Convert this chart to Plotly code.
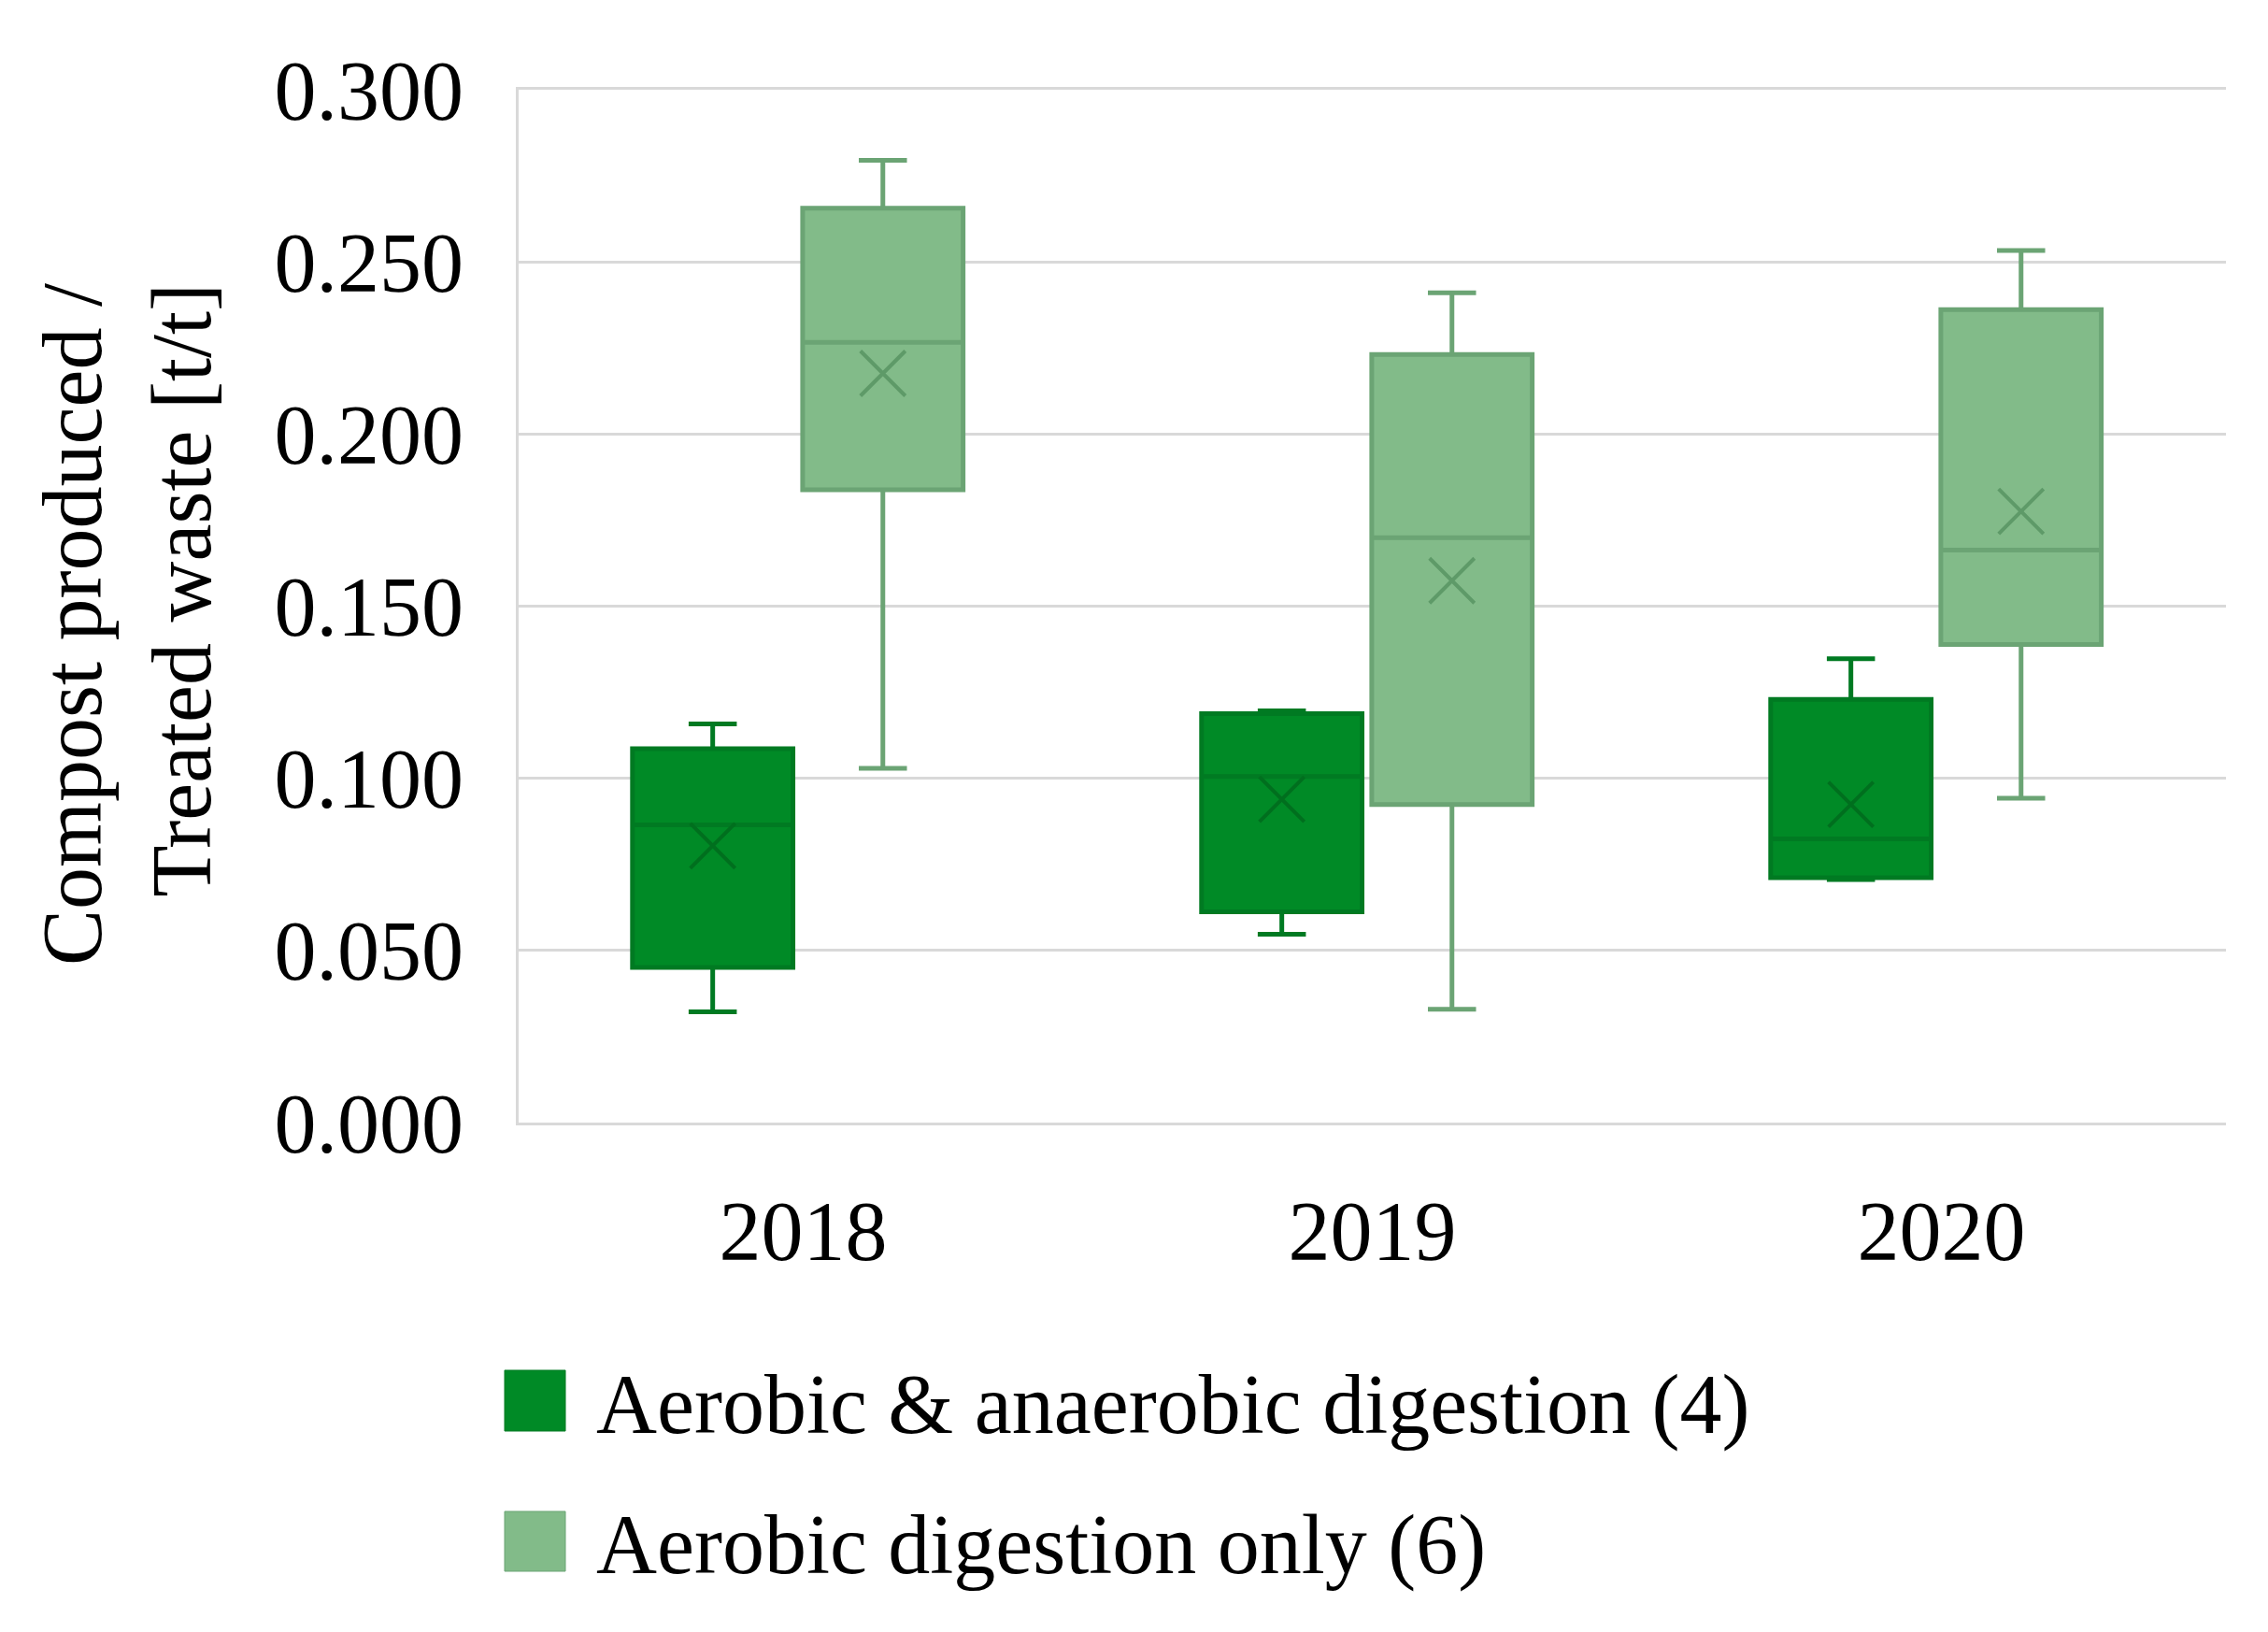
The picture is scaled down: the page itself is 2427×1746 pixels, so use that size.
import plotly.graph_objects as go

# ---------------- data ----------------
years = ["2018", "2019", "2020"]
series_names = ["Aerobic & anaerobic digestion (4)", "Aerobic digestion only (6)"]

ana_min = [0.0322, 0.0547, 0.0706]
ana_q1 = [0.0451, 0.0612, 0.0711]
ana_median = [0.0865, 0.1005, 0.0824]
ana_q3 = [0.1086, 0.1188, 0.1229]
ana_max = [0.1158, 0.1196, 0.1347]
ana_mean = [0.0804, 0.0939, 0.0924]

aer_min = [0.1029, 0.0329, 0.0942]
aer_q1 = [0.1838, 0.0924, 0.1389]
aer_median = [0.2266, 0.1699, 0.1663]
aer_q3 = [0.2656, 0.2231, 0.2361]
aer_max = [0.2795, 0.2410, 0.2533]
aer_mean = [0.2176, 0.1574, 0.1775]

y_ticks = [0.0, 0.05, 0.10, 0.15, 0.20, 0.25, 0.30]

# ---------------- style ----------------
W, H = 2427, 1746
PL, PR, PT, PB = 547, 2374, 88, 1193  # plot area in pixels
FONT = "Liberation Serif"
FS = 90
GRID = "#D9D9D9"

fills = ["#008A26", "#82BB89"]
lines = ["#007A22", "#6BA474"]
xcols = ["#006F1E", "#5E9A68"]
offsets = [-0.159, 0.140]
BOXW = 0.282

def px_x(p):
    return (p - PL) / (PR - PL)

def px_y(p):
    return (PB - p) / (PB - PT)

stats = [
    (ana_min, ana_q1, ana_median, ana_q3, ana_max, ana_mean),
    (aer_min, aer_q1, aer_median, aer_q3, aer_max, aer_mean),
]

fig = go.Figure()
for k, (mn, q1, md, q3, mx, mean) in enumerate(stats):
    xpos = [i + offsets[k] for i in range(len(years))]
    fig.add_trace(go.Box(
        x=xpos, q1=q1, median=md, q3=q3, lowerfence=mn, upperfence=mx,
        name=series_names[k], width=BOXW, whiskerwidth=0.3,
        fillcolor=fills[k], line=dict(color=lines[k], width=5),
        boxpoints=False, showlegend=False, hoverinfo="skip",
    ))
    fig.add_trace(go.Scatter(
        x=xpos, y=mean, mode="markers", showlegend=False, hoverinfo="skip",
        marker=dict(symbol="x-thin", size=48,
                    line=dict(color=xcols[k], width=4)),
    ))

fig.update_layout(
    width=W, height=H, autosize=False,
    margin=dict(l=PL, r=W - PR, t=PT, b=H - PB, pad=0),
    paper_bgcolor="white", plot_bgcolor="white",
    font=dict(family=FONT, size=FS, color="black"),
    showlegend=False,
    xaxis=dict(
        range=[-0.5, len(years) - 0.5], tickvals=list(range(len(years))),
        ticktext=years, showgrid=False, zeroline=False,
        showline=True, linecolor=GRID, linewidth=3, mirror=True,
        ticks="", ticklabelstandoff=36,
        tickfont=dict(family=FONT, size=FS, color="black"),
    ),
    yaxis=dict(
        range=[0, 0.3], tickvals=y_ticks, tickformat=".3f",
        showgrid=True, gridcolor=GRID, gridwidth=3, zeroline=False,
        showline=True, linecolor=GRID, linewidth=3,
        ticks="", ticklabelstandoff=38,
        tickfont=dict(family=FONT, size=FS, color="black"),
    ),
)

# y-axis title
fig.add_annotation(
    text="Compost produced /<br>Treated waste [t/t]",
    xref="paper", yref="paper", x=px_x(128), y=px_y(660),
    xanchor="center", yanchor="middle", textangle=-90, align="right",
    showarrow=False, font=dict(family=FONT, size=FS, color="black"),
)

# legend (drawn manually for large swatches)
legend_rows = [(1458, 1523), (1609, 1673)]
for k, (top, bot) in enumerate(legend_rows):
    fig.add_shape(
        type="rect", xref="paper", yref="paper",
        x0=px_x(532), x1=px_x(597), y0=px_y(bot), y1=px_y(top),
        fillcolor=fills[k], line=dict(color=lines[k], width=1),
    )
    fig.add_annotation(
        text=series_names[k], xref="paper", yref="paper",
        x=px_x(628), y=px_y((top + bot) / 2 + 4),
        xanchor="left", yanchor="middle", showarrow=False,
        font=dict(family=FONT, size=FS, color="black"),
    )

fig.write_html("out.html")
